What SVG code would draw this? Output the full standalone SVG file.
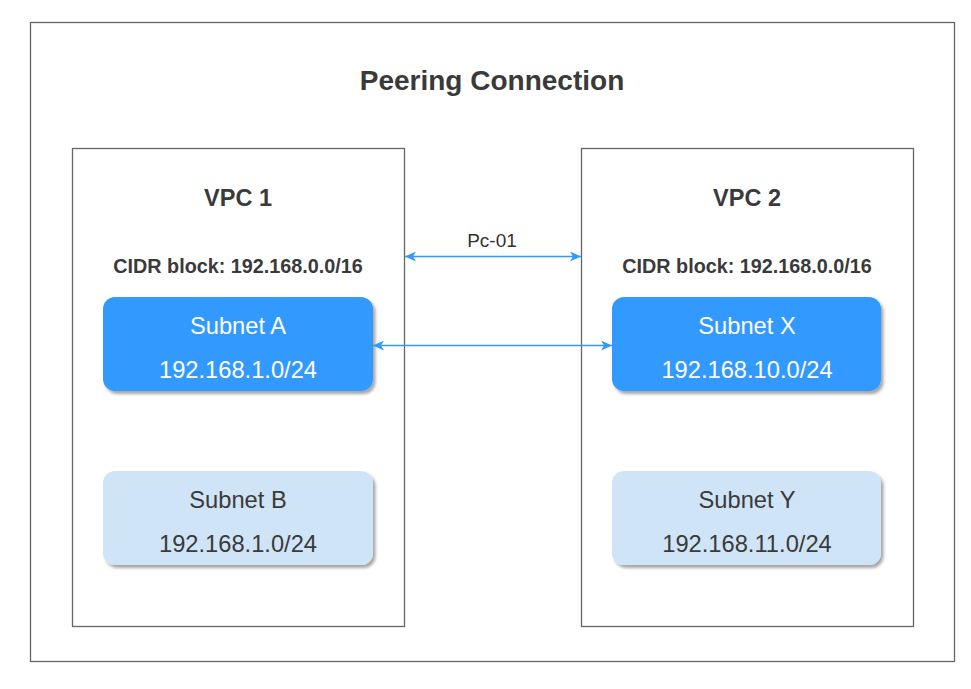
<svg xmlns="http://www.w3.org/2000/svg" width="971" height="689" viewBox="0 0 971 689">
<style>
.frame{fill:#fff;stroke:#666;stroke-width:1.3}
.dark{fill:#3399ff}
.light{fill:#d0e4f7}
.t{font-family:"Liberation Sans",Arial,sans-serif;text-anchor:middle}
.b{font-weight:bold;fill:#3a3a3a}
.w{fill:#fff;font-size:23.7px}
.g{fill:#3a3a3a;font-size:23.7px}
.conn{stroke:#3399ff;stroke-width:1.3;fill:none}
</style>
<defs>
<filter id="sh" x="-10%" y="-10%" width="130%" height="140%">
<feDropShadow dx="2.5" dy="3" stdDeviation="1.8" flood-color="#000" flood-opacity="0.35"/>
</filter>
<marker id="ah" markerWidth="12" markerHeight="10" refX="11" refY="5" orient="auto-start-reverse" markerUnits="userSpaceOnUse">
<path d="M0,0 L11,5 L0,10 L3,5 Z" fill="#3399ff"/>
</marker>
</defs>
<rect width="971" height="689" fill="#fff"/>
<g id="outer">
<rect class="frame" x="30.5" y="22.5" width="924" height="639"/>
<text class="t b" x="492" y="90" font-size="28">Peering Connection</text>
</g>
<g id="vpc1">
<rect class="frame" x="72.5" y="148.5" width="332" height="478"/>
<text class="t b" x="238" y="206" font-size="23.5">VPC 1</text>
<text class="t b" x="238" y="273" font-size="19.8">CIDR block: 192.168.0.0/16</text>
</g>
<g id="vpc2">
<rect class="frame" x="581.5" y="148.5" width="332" height="478"/>
<text class="t b" x="747" y="206" font-size="23.5">VPC 2</text>
<text class="t b" x="747" y="273" font-size="19.8">CIDR block: 192.168.0.0/16</text>
</g>
<g id="subnetA">
<rect class="dark" x="103" y="297" width="270" height="94" rx="12" filter="url(#sh)"/>
<text class="t w" x="238" y="334">Subnet A</text>
<text class="t w" x="238" y="378">192.168.1.0/24</text>
</g>
<g id="subnetB">
<rect class="light" x="103" y="471" width="270" height="94" rx="12" filter="url(#sh)"/>
<text class="t g" x="238" y="508">Subnet B</text>
<text class="t g" x="238" y="552">192.168.1.0/24</text>
</g>
<g id="subnetX">
<rect class="dark" x="612" y="297" width="269" height="94" rx="12" filter="url(#sh)"/>
<text class="t w" x="747" y="334">Subnet X</text>
<text class="t w" x="747" y="378">192.168.10.0/24</text>
</g>
<g id="subnetY">
<rect class="light" x="612" y="471" width="269" height="94" rx="12" filter="url(#sh)"/>
<text class="t g" x="747" y="508">Subnet Y</text>
<text class="t g" x="747" y="552">192.168.11.0/24</text>
</g>
<g id="connectors">
<line class="conn" x1="405" y1="256.5" x2="581" y2="256.5" marker-start="url(#ah)" marker-end="url(#ah)"/>
<text class="t" x="492" y="247" font-size="19" fill="#333">Pc-01</text>
<line class="conn" x1="373" y1="345.5" x2="612" y2="345.5" marker-start="url(#ah)" marker-end="url(#ah)"/>
</g>
</svg>
